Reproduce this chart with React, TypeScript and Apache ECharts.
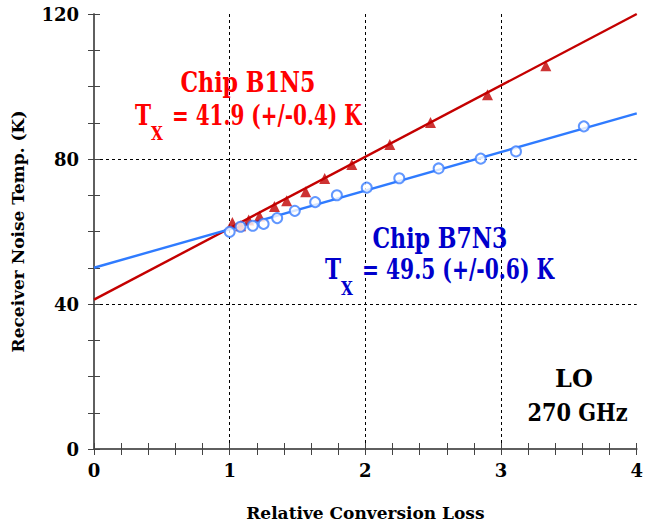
import React, { useEffect, useRef } from "react";
import * as echarts from "echarts";

const FONT = "DejaVu Serif";

// Measured data points
const redX = [1.02, 1.08, 1.14, 1.22, 1.33, 1.42, 1.56, 1.7, 1.9, 2.18, 2.48, 2.9, 3.33];
const redY = [62.5, 61.6, 63.2, 64.3, 66.9, 68.5, 71.0, 74.6, 78.5, 84.0, 90.1, 97.7, 105.7];
const blueX = [1.0, 1.08, 1.17, 1.25, 1.35, 1.48, 1.63, 1.79, 2.01, 2.25, 2.54, 2.85, 3.11, 3.61];
const blueY = [59.9, 61.3, 61.6, 62.1, 63.7, 65.7, 68.1, 70.0, 72.1, 74.7, 77.4, 80.1, 82.1, 89.0];

// Fit lines (end points)
const redFitX = [0, 4];
const redFitY = [41.2, 120];
const blueFitX = [0, 4];
const blueFitY = [50.0, 92.6];

const xName = "Relative Conversion Loss";
const yName = "Receiver Noise Temp. (K)";

const zip = (xs: number[], ys: number[]) => xs.map((x, i) => [x, ys[i]]);

export default function App() {
  const ref = useRef<HTMLDivElement>(null);
  useEffect(() => {
    const chart = echarts.init(ref.current!, null, { renderer: "svg" });
    const axisLine = { show: true, lineStyle: { color: "#555", width: 1.5 } };
    const tick = { show: true, inside: true, length: 6, lineStyle: { color: "#444", width: 1 } };
    const labelStyle = { fontFamily: FONT, fontWeight: "bold" as const, fontSize: 18, color: "#000" };
    const nameStyle = { fontFamily: FONT, fontWeight: "bold" as const, fontSize: 17, color: "#000" };
    const split = {
      show: true,
      showMinLine: false,
      showMaxLine: false,
      lineStyle: { type: [3, 3], color: "#000", width: 1 },
    };
    const txt = (
      text: string,
      x: number,
      y: number,
      size: number,
      color: string,
      align: string,
      sx: number
    ) => ({
      type: "text",
      x,
      y,
      scaleX: sx,
      style: {
        text,
        fill: color,
        fontFamily: FONT,
        fontWeight: "bold",
        fontSize: size,
        textAlign: align,
        textVerticalAlign: "middle",
      },
      z: 100,
    });
    chart.setOption({
      animation: false,
      backgroundColor: "#fff",
      grid: { left: 94, top: 14, right: 6, bottom: 75 },
      xAxis: [
        {
          type: "value",
          min: 0,
          max: 4,
          interval: 1,
          position: "bottom",
          axisLine,
          axisTick: tick,
          minorTick: { show: true, splitNumber: 5, length: 6, lineStyle: { color: "#444" } },
          axisLabel: { ...labelStyle, margin: 12 },
          splitLine: split,
          name: xName,
          nameLocation: "middle",
          nameGap: 55,
          nameTextStyle: nameStyle,
        },
        {
          type: "value",
          min: 0,
          max: 4,
          interval: 1,
          position: "top",
          axisLine,
          axisTick: tick,
          minorTick: { show: true, splitNumber: 5, length: 6, lineStyle: { color: "#444" } },
          axisLabel: { show: false },
          splitLine: { show: false },
        },
      ],
      yAxis: [
        {
          type: "value",
          min: 0,
          max: 120,
          interval: 40,
          position: "left",
          axisLine,
          axisTick: tick,
          minorTick: { show: true, splitNumber: 4, length: 6, lineStyle: { color: "#444" } },
          axisLabel: { ...labelStyle, margin: 15 },
          splitLine: split,
          name: yName,
          nameLocation: "middle",
          nameGap: 68,
          nameRotate: 90,
          nameTextStyle: nameStyle,
        },
        {
          type: "value",
          min: 0,
          max: 120,
          interval: 40,
          position: "right",
          axisLine,
          axisTick: tick,
          minorTick: { show: true, splitNumber: 4, length: 6, lineStyle: { color: "#444" } },
          axisLabel: { show: false },
          splitLine: { show: false },
        },
      ],
      series: [
        {
          type: "line",
          data: zip(redFitX, redFitY),
          showSymbol: false,
          lineStyle: { color: "#c40000", width: 2.4 },
          z: 2,
        },
        {
          type: "line",
          data: zip(blueFitX, blueFitY),
          showSymbol: false,
          lineStyle: { color: "#2f7bff", width: 2.4 },
          z: 2,
        },
        {
          type: "scatter",
          data: zip(redX, redY),
          symbol: "triangle",
          symbolSize: 11,
          itemStyle: { color: "#c00000" },
          z: 3,
        },
        {
          type: "scatter",
          data: zip(blueX, blueY),
          symbol: "emptyCircle",
          symbolSize: 10,
          itemStyle: { color: "#3a7dff", borderWidth: 1.3 },
          z: 3,
        },
      ],
      graphic: [
        txt("Chip B1N5", 248, 83, 27, "#ff0000", "center", 0.82),
        txt("T", 135, 115.5, 27, "#ff0000", "left", 0.8),
        txt("X", 151, 134, 18, "#ff0000", "left", 0.85),
        txt("= 41.9 (+/-0.4) K", 172, 115.5, 27, "#ff0000", "left", 0.74),
        txt("Chip B7N3", 440, 239, 27, "#0000cc", "center", 0.82),
        txt("T", 325, 270, 27, "#0000cc", "left", 0.8),
        txt("X", 341, 288.5, 18, "#0000cc", "left", 0.85),
        txt("= 49.5 (+/-0.6) K", 362, 270, 27, "#0000cc", "left", 0.75),
        txt("LO", 574, 378.5, 24, "#000", "center", 1.0),
        txt("270 GHz", 577.5, 412.5, 24, "#000", "center", 0.87),
      ],
    });
    return () => chart.dispose();
  }, []);
  return (
    <div
      ref={ref}
      style={{ position: "fixed", left: 0, top: 0, width: 646, height: 526, background: "#fff" }}
    />
  );
}
